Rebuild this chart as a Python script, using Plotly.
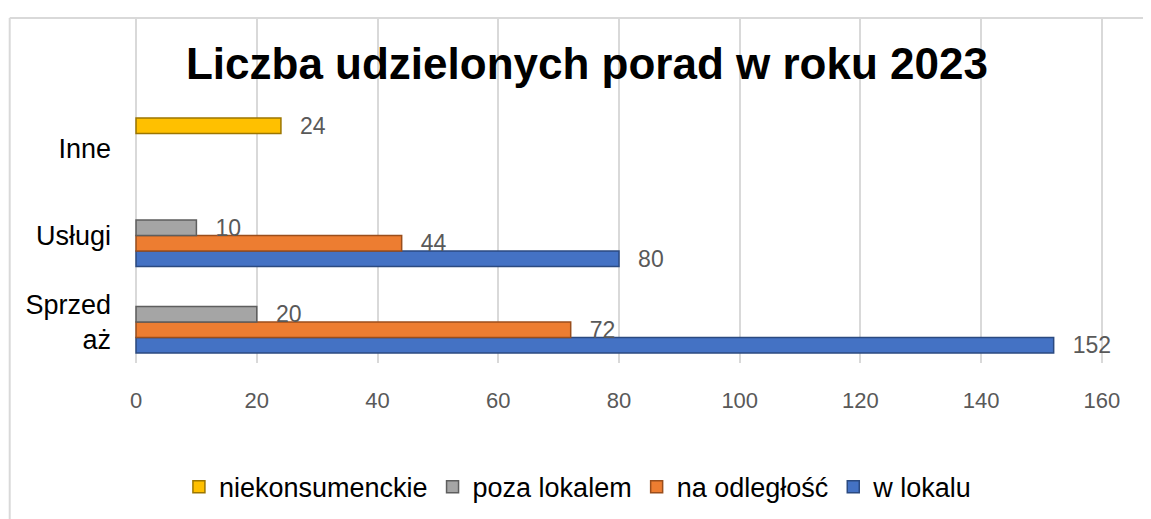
import plotly.graph_objects as go

categories = ["Sprzed<br>aż", "Usługi", "Inne"]
series_names = ["w lokalu", "na odległość", "poza lokalem", "niekonsumenckie"]
w_lokalu = [152, 80, None]
na_odleglosc = [72, 44, None]
poza_lokalem = [20, 10, None]
niekonsumenckie = [None, None, 24]
x_ticks = [0, 20, 40, 60, 80, 100, 120, 140, 160]

series_values = [w_lokalu, na_odleglosc, poza_lokalem, niekonsumenckie]
fill_colors = ["#4472C4", "#ED7D31", "#A5A5A5", "#FFC000"]
edge_colors = ["#2B4A80", "#9A4E1C", "#5E5E5E", "#9C7600"]

fig = go.Figure()
for name, vals, fc, ec in zip(series_names, series_values, fill_colors, edge_colors):
    fig.add_trace(go.Bar(
        name=name,
        y=categories,
        x=vals,
        orientation="h",
        marker=dict(color=fc, line=dict(color=ec, width=1.5)),
        text=[("" if v is None else str(v)) for v in vals],
        texttemplate="\u2002\u2009%{text}",
        textposition="outside",
        constraintext="none",
        cliponaxis=False,
        textfont=dict(family="Liberation Sans, Arial, sans-serif", size=23, color="#595959"),
    ))

fig.update_layout(
    width=1151, height=519,
    paper_bgcolor="white", plot_bgcolor="white",
    margin=dict(l=121.5, r=50.5, t=10, b=164, autoexpand=False),
    barmode="group",
    bargap=0.283,
    bargroupgap=0,
    title=dict(
        text="<b>Liczba udzielonych porad w roku 2023</b>",
        x=0.503, xanchor="center",
        y=0.892, yanchor="middle",
        font=dict(family="Liberation Sans, Arial, sans-serif", size=44, color="black"),
    ),
    xaxis=dict(
        range=[-1, 161],
        tickvals=x_ticks,
        showgrid=True, gridcolor="#D9D9D9", gridwidth=2,
        zeroline=False,
        showline=False,
        ticks="",
        automargin=False,
        ticklabelstandoff=22,
        tickfont=dict(family="Liberation Sans, Arial, sans-serif", size=22, color="#595959"),
    ),
    yaxis=dict(
        type="category",
        categoryorder="array", categoryarray=categories,
        range=[-0.474, 3.514],
        showgrid=False, zeroline=False, showline=False,
        ticks="",
        automargin=False,
        ticklabelstandoff=18,
        tickfont=dict(family="Liberation Sans, Arial, sans-serif", size=27, color="black"),
    ),
    legend=dict(
        orientation="h",
        traceorder="reversed",
        x=0.458, xanchor="center",
        y=-0.36, yanchor="middle",
        font=dict(family="Liberation Sans, Arial, sans-serif", size=27, color="black"),
        itemwidth=30,
        tracegroupgap=0,
    ),
    showlegend=True,
)

# chart frame (left and top edges visible in the crop)
fig.add_shape(type="line", xref="paper", yref="paper",
              x0=-0.123, x1=-0.123, y0=-0.7, y1=1,
              line=dict(color="#D9D9D9", width=2))
fig.add_shape(type="line", xref="paper", yref="paper",
              x0=-0.123, x1=1.1, y0=1, y1=1,
              line=dict(color="#D9D9D9", width=2))

fig.write_html("out.html")
